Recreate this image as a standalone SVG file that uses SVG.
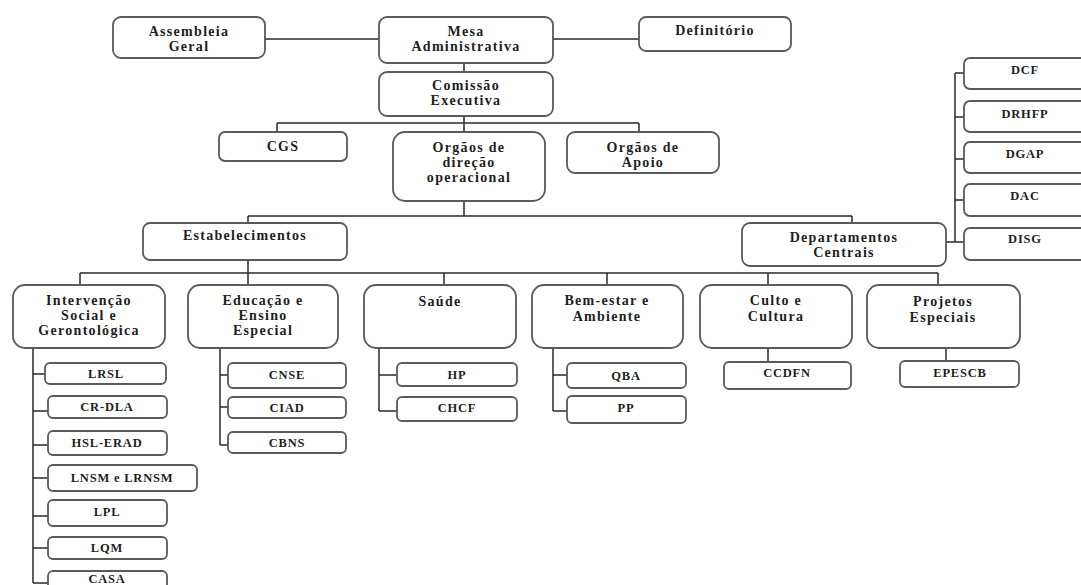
<svg xmlns="http://www.w3.org/2000/svg" width="1081" height="585" viewBox="0 0 1081 585">
  <style>
    .box { fill: #ffffff; stroke: #5a5a5a; stroke-width: 1.8; }
    .lnk { fill: none; stroke: #2a2a2a; stroke-width: 1.5; }
    text { font-family: 'Liberation Serif', 'Times New Roman', 'DejaVu Serif', serif; font-weight: 700; fill: #1e1e1e; text-anchor: middle; }
    .t { font-size: 14px; letter-spacing: 1.3px; }
    .s { font-size: 12.5px; letter-spacing: 0.8px; }
  </style>
  <rect width="1081" height="585" fill="#ffffff"/>

  <!-- connectors -->
  <g id="connectors" class="lnk">
    <path d="M265 39 H379 M553 39 H639"/>
    <path d="M464 63 V72"/>
    <path d="M464 116 V132 M277 123 H639 M277 123 V132 M639 123 V132"/>
    <path d="M464 201 V216 M248 216 H852 M248 216 V223 M852 216 V223"/>
    <path d="M248 260 V285 M80 273 H938 M80 273 V285 M444 273 V285 M607 273 V285 M768 273 V285 M938 273 V285"/>
    <path d="M946 242 H955 M955 73 V242 M955 73 H964 M955 117 H964 M955 159 H964 M955 200 H964 M955 242 H964"/>
    <path d="M33 348 V583 M33 374 H45 M33 411 H48 M33 445 H48 M33 478 H48 M33 516 H48 M33 548 H48 M33 583 H48"/>
    <path d="M220 348 V445 M220 375 H228 M220 407 H228 M220 445 H228"/>
    <path d="M379 348 V411 M379 375 H397 M379 411 H397"/>
    <path d="M553 348 V411 M553 375 H567 M553 411 H567"/>
    <path d="M768 348 V362"/>
    <path d="M946 348 V361"/>
  </g>

  <!-- top level -->
  <g id="assembleia-geral">
    <rect class="box" x="113" y="17" width="152" height="41" rx="8"/>
    <text class="t" x="189" y="36">Assembleia</text>
    <text class="t" x="189" y="51">Geral</text>
  </g>
  <g id="mesa-administrativa">
    <rect class="box" x="379" y="17" width="174" height="46" rx="8"/>
    <text class="t" x="466" y="36">Mesa</text>
    <text class="t" x="466" y="51">Administrativa</text>
  </g>
  <g id="definitorio">
    <rect class="box" x="639" y="17" width="152" height="34" rx="7"/>
    <text class="t" x="715" y="35">Definitório</text>
  </g>
  <g id="comissao-executiva">
    <rect class="box" x="379" y="72" width="174" height="44" rx="8"/>
    <text class="t" x="466" y="90">Comissão</text>
    <text class="t" x="466" y="105">Executiva</text>
  </g>

  <!-- second level -->
  <g id="cgs">
    <rect class="box" x="219" y="132" width="128" height="29" rx="6"/>
    <text class="t" x="283" y="151">CGS</text>
  </g>
  <g id="orgaos-direcao">
    <rect class="box" x="393" y="132" width="152" height="69" rx="12"/>
    <text class="t" x="469" y="152">Orgãos de</text>
    <text class="t" x="469" y="167">direção</text>
    <text class="t" x="469" y="182">operacional</text>
  </g>
  <g id="orgaos-apoio">
    <rect class="box" x="567" y="132" width="152" height="41" rx="8"/>
    <text class="t" x="643" y="152">Orgãos de</text>
    <text class="t" x="643" y="167">Apoio</text>
  </g>

  <g id="estabelecimentos">
    <rect class="box" x="143" y="223" width="204" height="37" rx="7"/>
    <text class="t" x="245" y="240">Estabelecimentos</text>
  </g>
  <g id="departamentos-centrais">
    <rect class="box" x="742" y="223" width="204" height="43" rx="8"/>
    <text class="t" x="844" y="242">Departamentos</text>
    <text class="t" x="844" y="257">Centrais</text>
  </g>

  <!-- central departments -->
  <g id="dcf">
    <rect class="box" x="964" y="58" width="126" height="31" rx="6"/>
    <text class="s" x="1025" y="74">DCF</text>
  </g>
  <g id="drhfp">
    <rect class="box" x="964" y="101" width="126" height="31" rx="6"/>
    <text class="s" x="1025" y="118">DRHFP</text>
  </g>
  <g id="dgap">
    <rect class="box" x="964" y="142" width="126" height="31" rx="6"/>
    <text class="s" x="1025" y="158">DGAP</text>
  </g>
  <g id="dac">
    <rect class="box" x="964" y="184" width="126" height="32" rx="6"/>
    <text class="s" x="1025" y="200">DAC</text>
  </g>
  <g id="disg">
    <rect class="box" x="964" y="228" width="126" height="32" rx="6"/>
    <text class="s" x="1025" y="243">DISG</text>
  </g>

  <!-- establishment areas -->
  <g id="intervencao-social">
    <rect class="box" x="13" y="285" width="152" height="63" rx="12"/>
    <text class="t" x="89" y="305">Intervenção</text>
    <text class="t" x="89" y="320">Social e</text>
    <text class="t" x="89" y="335">Gerontológica</text>
  </g>
  <g id="educacao-ensino">
    <rect class="box" x="188" y="285" width="150" height="63" rx="12"/>
    <text class="t" x="263" y="305">Educação e</text>
    <text class="t" x="263" y="320">Ensino</text>
    <text class="t" x="263" y="335">Especial</text>
  </g>
  <g id="saude">
    <rect class="box" x="364" y="285" width="152" height="63" rx="12"/>
    <text class="t" x="440" y="306">Saúde</text>
  </g>
  <g id="bem-estar">
    <rect class="box" x="532" y="285" width="151" height="63" rx="12"/>
    <text class="t" x="607" y="305">Bem-estar e</text>
    <text class="t" x="607" y="321">Ambiente</text>
  </g>
  <g id="culto-cultura">
    <rect class="box" x="700" y="285" width="152" height="63" rx="12"/>
    <text class="t" x="776" y="305">Culto e</text>
    <text class="t" x="776" y="321">Cultura</text>
  </g>
  <g id="projetos-especiais">
    <rect class="box" x="867" y="285" width="153" height="63" rx="12"/>
    <text class="t" x="943" y="306">Projetos</text>
    <text class="t" x="943" y="322">Especiais</text>
  </g>

  <!-- units: Intervenção Social e Gerontológica -->
  <g id="lrsl">
    <rect class="box" x="45" y="363" width="121" height="21" rx="5"/>
    <text class="s" x="106" y="378">LRSL</text>
  </g>
  <g id="cr-dla">
    <rect class="box" x="48" y="396" width="119" height="22" rx="5"/>
    <text class="s" x="107" y="411">CR-DLA</text>
  </g>
  <g id="hsl-erad">
    <rect class="box" x="48" y="431" width="119" height="24" rx="5"/>
    <text class="s" x="107" y="447">HSL-ERAD</text>
  </g>
  <g id="lnsm-lrnsm">
    <rect class="box" x="48" y="465" width="149" height="26" rx="5"/>
    <text class="s" x="122" y="482">LNSM e LRNSM</text>
  </g>
  <g id="lpl">
    <rect class="box" x="48" y="500" width="119" height="26" rx="5"/>
    <text class="s" x="107" y="516">LPL</text>
  </g>
  <g id="lqm">
    <rect class="box" x="48" y="537" width="119" height="22" rx="5"/>
    <text class="s" x="107" y="552">LQM</text>
  </g>
  <g id="casa">
    <rect class="box" x="48" y="571" width="119" height="24" rx="5"/>
    <text class="s" x="107" y="583">CASA</text>
  </g>

  <!-- units: Educação e Ensino Especial -->
  <g id="cnse">
    <rect class="box" x="228" y="363" width="118" height="25" rx="5"/>
    <text class="s" x="287" y="379">CNSE</text>
  </g>
  <g id="ciad">
    <rect class="box" x="228" y="397" width="118" height="21" rx="5"/>
    <text class="s" x="287" y="412">CIAD</text>
  </g>
  <g id="cbns">
    <rect class="box" x="228" y="432" width="118" height="21" rx="5"/>
    <text class="s" x="287" y="447">CBNS</text>
  </g>

  <!-- units: Saúde -->
  <g id="hp">
    <rect class="box" x="397" y="363" width="120" height="23" rx="5"/>
    <text class="s" x="457" y="379">HP</text>
  </g>
  <g id="chcf">
    <rect class="box" x="397" y="397" width="120" height="24" rx="5"/>
    <text class="s" x="457" y="412">CHCF</text>
  </g>

  <!-- units: Bem-estar e Ambiente -->
  <g id="qba">
    <rect class="box" x="567" y="363" width="119" height="25" rx="5"/>
    <text class="s" x="626" y="380">QBA</text>
  </g>
  <g id="pp">
    <rect class="box" x="567" y="396" width="119" height="27" rx="5"/>
    <text class="s" x="626" y="412">PP</text>
  </g>

  <!-- units: Culto e Cultura, Projetos Especiais -->
  <g id="ccdfn">
    <rect class="box" x="724" y="362" width="127" height="27" rx="5"/>
    <text class="s" x="787" y="377">CCDFN</text>
  </g>
  <g id="epescb">
    <rect class="box" x="900" y="361" width="119" height="26" rx="5"/>
    <text class="s" x="960" y="377">EPESCB</text>
  </g>
</svg>
